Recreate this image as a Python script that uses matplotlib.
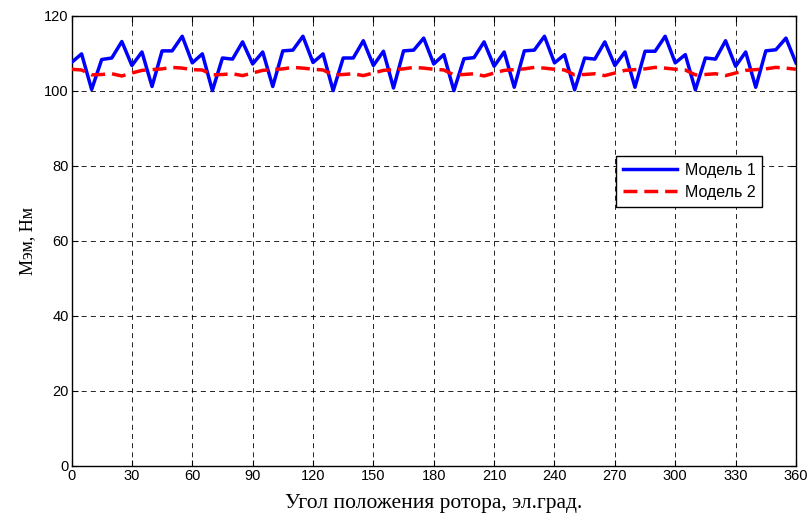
import matplotlib
matplotlib.use("Agg")
import matplotlib.pyplot as plt
import numpy as np

# rotor angle, el. deg (5 deg step)
angle = np.arange(0, 361, 5)

# Модель 1, Нм
model1 = [107.6, 109.9, 100.4, 108.4, 108.8, 113.2, 106.8, 110.4, 101.2, 110.7, 110.7, 114.6,
          107.5, 109.9, 100.1, 108.8, 108.5, 113.1, 107.2, 110.4, 101.2, 110.7, 110.9, 114.6,
          107.6, 109.9, 100.1, 108.8, 108.8, 113.4, 106.8, 110.6, 100.8, 110.7, 110.9, 114.1,
          107.2, 109.7, 100.1, 108.6, 108.9, 113.1, 106.6, 110.4, 101.0, 110.7, 110.9, 114.6,
          107.5, 109.7, 100.3, 108.8, 108.5, 113.1, 106.8, 110.4, 101.0, 110.6, 110.6, 114.6,
          107.5, 109.7, 100.3, 108.8, 108.5, 113.4, 106.6, 110.4, 101.0, 110.7, 111.0, 114.1,
          107.5]

# Модель 2, Нм
model2 = [105.8, 105.6, 104.3, 104.4, 104.6, 104.0, 104.8, 105.5, 105.7, 105.9, 106.3, 106.1,
          105.7, 105.6, 104.3, 104.4, 104.6, 104.1, 104.8, 105.5, 105.7, 105.9, 106.3, 106.1,
          105.8, 105.6, 104.3, 104.4, 104.6, 104.1, 104.8, 105.5, 105.7, 105.9, 106.3, 106.1,
          105.8, 105.6, 104.3, 104.4, 104.6, 104.0, 104.8, 105.5, 105.7, 105.9, 106.3, 106.1,
          105.8, 105.6, 104.3, 104.4, 104.6, 104.1, 104.8, 105.5, 105.7, 105.9, 106.3, 106.1,
          105.8, 105.6, 104.3, 104.4, 104.6, 104.1, 104.8, 105.5, 105.7, 105.9, 106.3, 106.1,
          105.8]

xticks = np.arange(0, 361, 30)
yticks = np.arange(0, 121, 20)

plt.rcParams['font.family'] = ['Liberation Sans', 'DejaVu Sans']

fig = plt.figure(figsize=(8.1, 5.16), dpi=100)
ax = fig.add_axes([0.0883, 0.0969, 0.8944, 0.8721])

ax.plot(angle, model1, color='blue', lw=2.5, label='Модель 1', zorder=3)
ax.plot(angle, model2, color='red', lw=2.5, ls=(0, (4, 2)), label='Модель 2', zorder=3)

ax.set_xlim(0, 360)
ax.set_ylim(0, 120)
ax.set_xticks(xticks)
ax.set_yticks(yticks)
ax.tick_params(direction='in', top=True, right=True, labelsize=10.5, length=4, pad=2)
ax.grid(True, color='black', ls=(0, (6, 5)), lw=0.6)
for s in ax.spines.values():
    s.set_linewidth(1.0)

ax.set_xlabel('Угол положения ротора, эл.град.', family=['Liberation Serif', 'DejaVu Serif'],
              fontsize=15.5, labelpad=8)
ax.set_ylabel('Мэм, Нм', family=['Liberation Serif', 'DejaVu Serif'], fontsize=13, labelpad=6)

leg = ax.legend(loc='upper left', bbox_to_anchor=(0.7516, 0.689), fontsize=11.5,
                fancybox=False, framealpha=1, edgecolor='black', handlelength=3.4,
                borderpad=0.42, labelspacing=0.45, handletextpad=0.5, borderaxespad=0)
leg.get_frame().set_linewidth(1.0)

fig.savefig('out.png', dpi=100)
